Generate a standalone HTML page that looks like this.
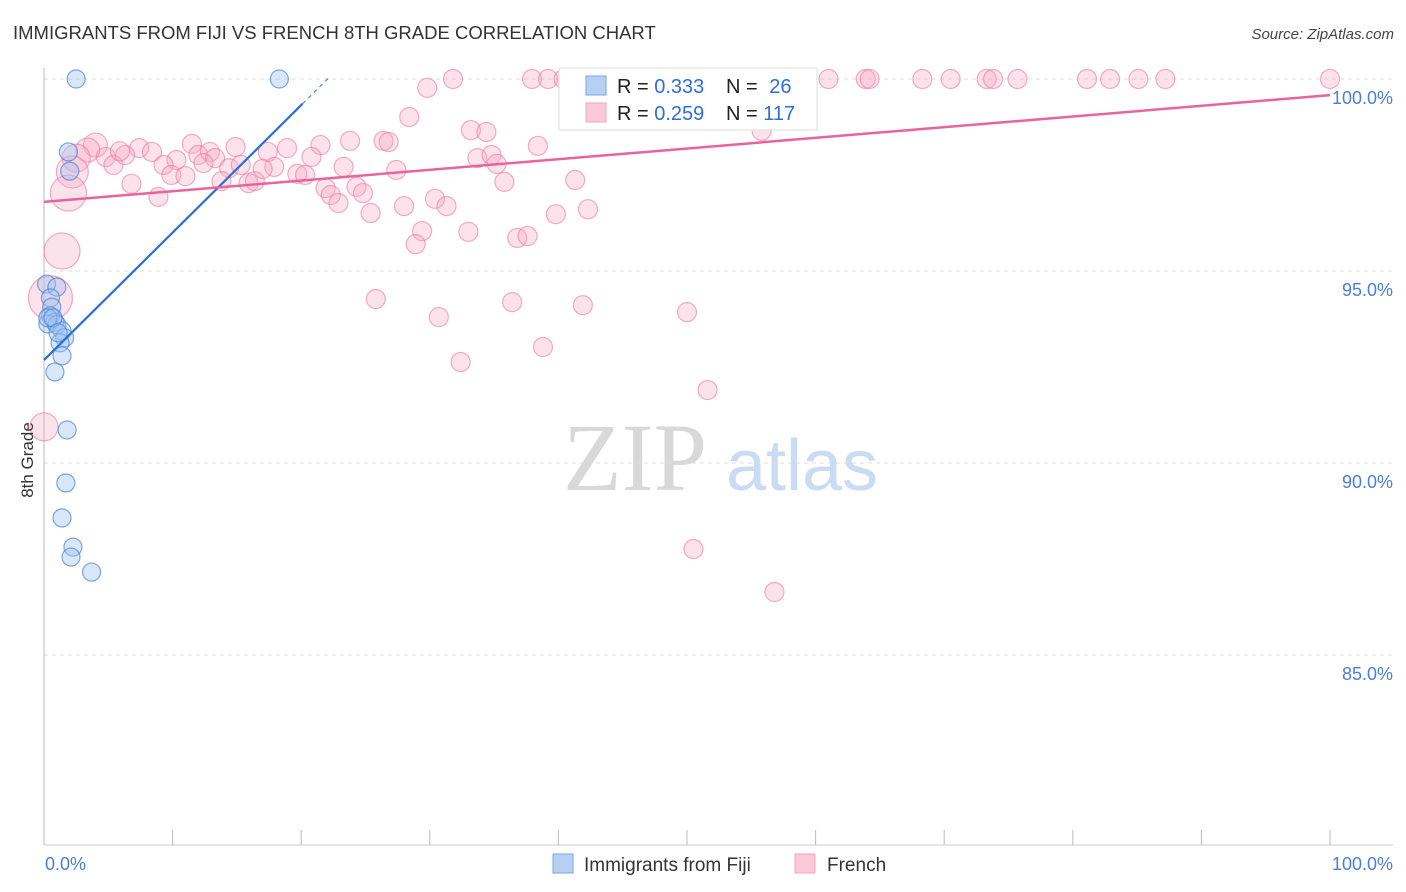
<!DOCTYPE html>
<html><head><meta charset="utf-8"><style>
body{margin:0;background:#fff;font-family:"Liberation Sans",sans-serif;}
svg{display:block}
</style></head><body>
<svg id="chart" width="1406" height="892" xmlns="http://www.w3.org/2000/svg">
<text x="13" y="39" font-size="18.5" fill="#333">IMMIGRANTS FROM FIJI VS FRENCH 8TH GRADE CORRELATION CHART</text>
<text x="1394" y="39" font-size="15" fill="#444" font-style="italic" text-anchor="end">Source: ZipAtlas.com</text>
<g>
<text x="635" y="490" font-size="96" fill="#d8d8d8" font-family="Liberation Serif,serif" text-anchor="middle">ZIP</text>
<text x="802" y="490" font-size="72" fill="#c9dcf3" text-anchor="middle">atlas</text>
</g>
<g id="grid"></g>
<g id="axes"></g>
<g id="points"></g>
<g id="lines"></g>
<text x="33" y="460" font-size="17" fill="#333" transform="rotate(-90 33 460)" text-anchor="middle">8th Grade</text>
<g>
<rect x="559" y="68" width="258" height="62" fill="#fff" stroke="#ddd"/>
<rect x="586" y="76" width="20" height="19" fill="#b7cff3" stroke="#7aa5e6"/>
<rect x="586" y="103" width="20" height="19" fill="#fbc9d8" stroke="#f2a5bd"/>
<text x="617" y="93" font-size="20" fill="#222">R = <tspan fill="#2e6fd3">0.333</tspan></text>
<text x="726" y="93" font-size="20" fill="#222">N = <tspan fill="#2e6fd3" dx="6">26</tspan></text>
<text x="617" y="120" font-size="20" fill="#222">R = <tspan fill="#2e6fd3">0.259</tspan></text>
<text x="726" y="120" font-size="20" fill="#222">N = <tspan fill="#2e6fd3">117</tspan></text>
</g>
<g><rect x="553" y="854" width="20" height="19" fill="#b7cff3" stroke="#7aa5e6"/><text x="584" y="871" font-size="19" fill="#333">Immigrants from Fiji</text></g>
<g><rect x="795" y="854" width="20" height="19" fill="#fbc9d8" stroke="#f2a5bd"/><text x="827" y="871" font-size="19" fill="#333">French</text></g>
</svg>
<script>
const yTicks=[100,95,90,85];
const yTickLabels=["100.0%","95.0%","90.0%","85.0%"];
const xTickLabels=["0.0%","100.0%"];
const fijiX=[2.5,18.3,1.9,2.0,0.2,1.0,0.5,0.6,0.5,0.85,0.3,1.0,1.4,1.6,1.25,1.4,0.85,1.8,1.7,1.4,2.25,2.1,3.7,0.3,0.7,1.1];
const fijiY=[100,100,98.1,97.6,94.66,94.58,94.3,94.06,93.83,93.67,93.62,93.6,93.44,93.26,93.13,92.79,92.37,90.86,89.48,88.57,87.81,87.55,87.16,93.78,93.78,93.39];
const frX=[31.8,37.95,39.2,40.4,41.0,44.2,44.9,46.4,48.2,49.3,52.6,54.4,56.1,58.8,61.0,63.9,64.2,68.3,70.5,73.3,73.8,75.7,81.1,82.9,85.1,87.2,100,
29.8,28.4,23.8,26.4,26.8,33.2,34.4,38.4,55.8,21.5,18.9,14.9,11.5,4.0,3.4,2.5,2.2,1.9,1.4,0.5,0,
7.4,8.4,6.3,4.8,5.4,5.9,10.3,9.3,12.0,12.9,13.3,12.4,14.4,15.3,17.4,20.8,23.3,33.7,34.8,35.2,6.8,8.9,9.9,11.0,13.8,15.9,16.4,17.9,17.0,19.7,20.3,21.9,22.3,22.9,24.3,24.8,25.4,27.4,28.0,30.4,31.3,35.8,39.8,41.3,42.3,29.4,28.9,33.0,36.8,37.6,25.8,30.7,36.4,41.9,50.0,32.4,38.8,51.6,50.5,56.8];
const frY=[100,100,100,100,100,100,100,100,100,100,100,100,100,100,100,100,100,100,100,100,100,100,100,100,100,100,100,
99.77,99.01,98.39,98.39,98.36,98.67,98.62,98.26,98.65,98.28,98.2,98.23,98.31,98.28,98.15,97.94,97.58,97.03,95.52,94.3,90.94,
98.2,98.1,98.02,97.97,97.76,98.12,97.89,97.76,98.02,98.1,97.94,97.81,97.68,97.76,98.1,97.97,97.71,97.94,98.02,97.79,97.27,96.93,97.5,97.47,97.34,97.29,97.34,97.71,97.66,97.53,97.5,97.16,96.98,96.77,97.19,97.03,96.51,97.63,96.69,96.88,96.69,97.32,96.48,97.37,96.61,96.04,95.7,96.02,95.86,95.91,94.27,93.8,94.19,94.11,93.93,92.63,93.02,91.9,87.76,86.64];
const bigR={40:12,41:12,42:14,43:16,44:18,45:18,46:22,47:14};
const fijiTrend=[92.68,0.332];
const frTrend=[96.8,99.58];
const X=v=>44+12.86*v, Y=v=>79+(100-v)*38.4;
const NS="http://www.w3.org/2000/svg";
function mk(t,a,p){const e=document.createElementNS(NS,t);for(const k in a)e.setAttribute(k,a[k]);document.getElementById(p).appendChild(e);return e;}
yTicks.forEach((t,i)=>{
 const l=mk('line',{x1:44,x2:1393,y1:Y(t),y2:Y(t),stroke:'#ddd','stroke-dasharray':'4,4'},'grid');
 
 
 const tx=mk('text',{x:1393,y:Y(t)+25,'font-size':18,fill:'#4a7fd6','text-anchor':'end'},'axes');
 tx.textContent=yTickLabels[i];
 
 
});
const ax=mk('line',{x1:44,x2:44,y1:68,y2:845,stroke:'#bbb'},'axes');


const bx=mk('line',{x1:44,x2:1393,y1:845,y2:845,stroke:'#ccc'},'axes');


for(let i=0;i<=10;i++){
 const t=mk('line',{x1:X(i*10),x2:X(i*10),y1:830,y2:845,stroke:'#bbb'},'axes');
 
 
}
[[0,'start',45],[100,'end',1393]].forEach((d,i)=>{
 const t=mk('text',{x:d[2],y:870,'font-size':18,fill:'#4a7fd6','text-anchor':d[1]},'axes');
 t.textContent=xTickLabels[i];
 
 
});
frX.forEach((v,i)=>{
 const c=mk('circle',{cx:X(v),cy:Y(frY[i]),r:bigR[i]||9.5,fill:'rgba(246,168,195,0.33)',stroke:'rgba(236,120,160,0.6)','stroke-width':1.2},'points');
 
 
});
fijiX.forEach((v,i)=>{
 const c=mk('circle',{cx:X(v),cy:Y(fijiY[i]),r:9,fill:'rgba(160,195,240,0.4)',stroke:'rgba(70,130,220,0.7)','stroke-width':1.2},'points');
 
 
});
const fl=mk('line',{x1:X(0),y1:Y(fijiTrend[0]),x2:X(20.1),y2:Y(fijiTrend[0]+fijiTrend[1]*20.1),stroke:'#2a6fd6','stroke-width':2.2},'lines');


const fd=mk('line',{x1:X(20.1),y1:Y(fijiTrend[0]+fijiTrend[1]*20.1),x2:X(22.2),y2:Y(fijiTrend[0]+fijiTrend[1]*22.2),stroke:'#2a6fd6','stroke-width':1,'stroke-dasharray':'4,4'},'lines');


const pl=mk('line',{x1:X(0),y1:Y(frTrend[0]),x2:X(100),y2:Y(frTrend[1]),stroke:'#e8649a','stroke-width':2.5},'lines');


</script>
</body></html>
